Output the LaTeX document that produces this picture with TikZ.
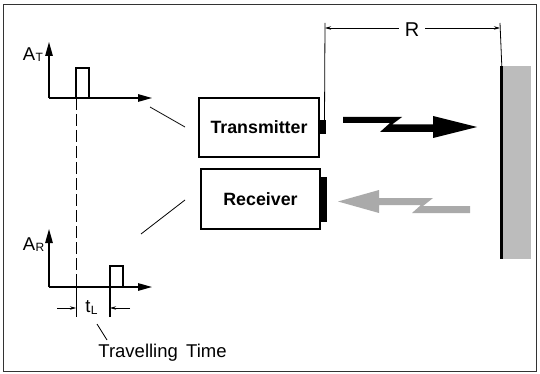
\documentclass[tikz,border=0pt]{standalone}
\usepackage{fontspec}
\setmainfont{Liberation Sans}
\usetikzlibrary{arrows.meta}
\definecolor{stip}{RGB}{188,188,188}
\definecolor{stiparrow}{RGB}{170,170,170}
\tikzset{
  box/.style={draw=black, line width=1.3pt, fill=white, inner sep=0pt, font=\fontsize{17.8}{20}\selectfont\bfseries},
  ant/.style={fill=black, draw=none, inner sep=0pt},
  axis/.style={line width=1.2pt, -{Triangle[length=14pt,width=7.5pt]}},
  pulse/.style={line width=1.1pt},
  thin/.style={line width=0.8pt},
  dim/.style={line width=0.7pt, -{Stealth[length=6pt,width=3.5pt]}},
  lab/.style={inner sep=0pt, font=\fontsize{18.5}{20}\selectfont},
  sub/.style={inner sep=0pt, font=\fontsize{12}{13}\selectfont},
}
\begin{document}
\begin{tikzpicture}[x=1pt,y=-1pt]
\useasboundingbox (0,0) rectangle (540,374);
% frame
\draw[line width=1pt, black!80] (3,5) rectangle (536,371);

% boxes
\node[box, minimum width=120pt, minimum height=59pt] (tx) at (259,127.5) {Transmitter};
\node[box, minimum width=119pt, minimum height=60pt] (rx) at (260.5,199) {Receiver};
\node[ant, minimum width=7pt, minimum height=14pt] (txant) at (322.5,127) {};
\node[ant, minimum width=7pt, minimum height=45pt] (rxant) at (323.5,199.5) {};

% wall
\node[fill=stip, draw=none, inner sep=0pt, minimum width=29pt, minimum height=192pt] (wall) at (516.5,162.5) {};
\draw[line width=3pt] (wall.north west) -- (wall.south west);

% R dimension
\coordinate (rl) at (325,28);
\coordinate (rr) at (500,28);
\draw[thin] (txant.north) ++(2pt,0) coordinate (tt) -- (325,23);
\draw[thin] (wall.north west) -- (500,23);
\node[lab, font=\fontsize{20}{22}\selectfont] (R) at (412,30) {R};
\draw[dim] ([xshift=-6pt]R.west |- rl) -- (rl);
\draw[dim] ([xshift=6pt]R.east |- rr) -- (rr);

% transmitted arrow (black)
\fill[black] (343,117) -- (402,117) -- (392,124.5) -- (433,124.5) -- (433,116) -- (477,127)
  -- (433,138) -- (433,132) -- (380,132) -- (390,123) -- (343,123) -- cycle;
% received arrow (gray)
\fill[stiparrow] (338,201.5) -- (379,190) -- (379,198) -- (433,198) -- (423,206) -- (470,206)
  -- (470,213) -- (412,213) -- (421,205) -- (379,205) -- (379,213) -- cycle;

% top (transmit) axes
\coordinate (o1) at (49,98);
\draw[axis] (o1) -- (49,42);
\draw[axis] (o1) -- (152,98);
\draw[pulse] (76,98) -- (76,68) -- (89,68) -- (89,98);
\node[lab] (AT) at (29,54) {A};
\node[sub] (ATs) at (AT.south east) [anchor=south west, yshift=-1pt] {T};

% bottom (receive) axes
\coordinate (o2) at (49,287);
\draw[axis] (o2) -- (49,229);
\draw[axis] (o2) -- (152,287);
\draw[pulse] (110,317) -- (110,266) -- (123,266) -- (123,287);
\node[lab] (AR) at (29,244) {A};
\node[sub] (ARs) at (AR.south east) [anchor=south west, yshift=-1pt] {R};

% dashed time reference
\draw[thin, dash pattern=on 12pt off 4pt] (76,98) -- (76,287);
\draw[thin] (76,287) -- (76,317);

% t_L dimension
\draw[dim] (57,308) -- (76,308);
\draw[dim] (130,308) -- (110,308);
\node[lab] (tL) at (88,307) {t};
\node[sub] (tLs) at (tL.south east) [anchor=south west, yshift=-1pt] {L};
\node[lab] (trt) at (162.5,353) {Travelling\, Time};
\draw[thin] (97,324) -- (107,340);

% leader lines to boxes
\coordinate (l1a) at (150,107);
\coordinate (l2a) at (141,234);
\draw[thin] (l1a) -- (185,127);
\draw[thin] (l2a) -- (185,200);
\end{tikzpicture}
\end{document}
